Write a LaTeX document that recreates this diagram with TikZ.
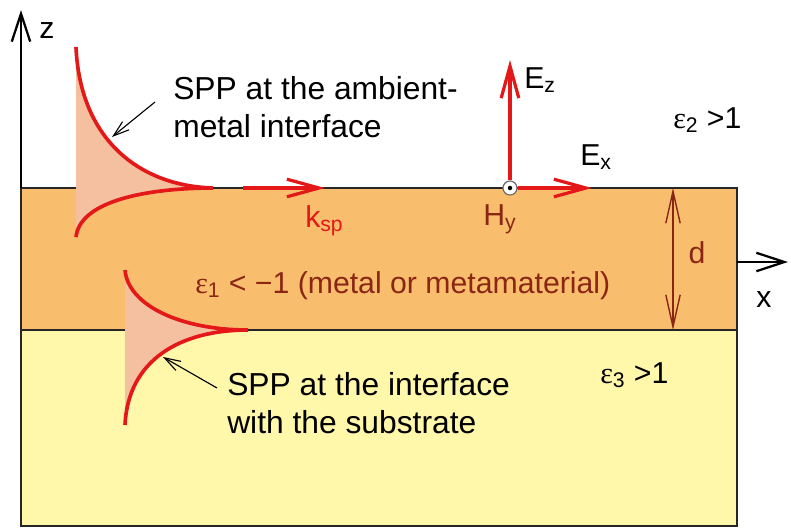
\documentclass[tikz,border=0pt]{standalone}
\usepackage{fontspec}
\setmainfont{Liberation Sans}
\newfontfamily\greekfont{Liberation Serif}
\usetikzlibrary{arrows.meta}
\definecolor{metal}{RGB}{248,190,110}
\definecolor{subst}{RGB}{255,247,170}
\definecolor{spp}{RGB}{244,192,160}
\definecolor{field}{RGB}{228,24,24}
\definecolor{brick}{RGB}{140,38,20}
\newcommand{\perm}[1]{{\greekfont ε}\textsubscript{#1}}

\begin{document}
\begin{tikzpicture}[x=0.025cm, y=-0.025cm,
        txt/.style={font=\fontsize{21.5}{27}\selectfont, inner sep=0pt},
        big/.style={font=\fontsize{22.6}{27}\selectfont, inner sep=0pt},
        wave/.style={draw=field, line width=2.6pt},
        vec/.style={field, line width=2.3pt, -{Straight Barb[length=8mm,width=4.4mm]}},
        axis/.style={line width=1.6pt, -{Straight Barb[length=7mm,width=4.6mm]}},
        note/.style={line width=0.8pt, -{Straight Barb[length=4mm,width=2.6mm]}}]

    \useasboundingbox (0,0) rectangle (791,528);

    % layers
    \fill[subst] (21,330) rectangle (737,526);
    \fill[metal] (21,188) rectangle (737,330);
    \draw[line width=1.2pt, black!85] (21,188) rectangle (737,526) (21,330) -- (737,330);

    % axes
    \coordinate (O) at (21,188);
    \coordinate (ztip) at (21,10);
    \coordinate (xfoot) at (737,262);
    \coordinate (xtip) at (788,262);
    \draw[axis] (O) -- (ztip);
    \draw[axis] (xfoot) -- (xtip);
    \node[txt, anchor=base] (zlab) at (47,38) {z};
    \node[txt, anchor=base] (xlab) at (764,307) {x};

    % SPP profiles
    \fill[spp] (76,47) .. controls (80,140) and (140,186) .. (213,188)
        .. controls (150,188) and (80,200) .. (76,237) -- cycle;
    \draw[wave] (76,47) .. controls (80,140) and (140,186) .. (213,188)
        .. controls (150,188) and (80,200) .. (76,237);
    \fill[spp] (125,270) .. controls (128,305) and (180,330) .. (248,330)
        .. controls (180,330) and (128,360) .. (125,425) -- cycle;
    \draw[wave] (125,270) .. controls (128,305) and (180,330) .. (248,330)
        .. controls (180,330) and (128,360) .. (125,425);

    % wave vector and fields
    \coordinate (kfoot) at (243,188);
    \coordinate (ktip) at (325,188);
    \draw[vec] (kfoot) -- (ktip);
    \node[txt, anchor=base west, field] (ksp) at (305,227) {k\textsubscript{sp}};

    \node[circle, draw=black!60, fill=white, minimum size=0.35cm, inner sep=0pt, line width=0.8pt] (Hy) at (510,188) {};
    \fill (Hy.center) circle[radius=1.6pt];
    \coordinate (Eztip) at (510,60);
    \coordinate (Extip) at (592,188);
    \draw[vec] (Hy) -- (Eztip);
    \draw[vec] (Hy) -- (Extip);
    \node[txt, anchor=base west] (Ez) at (524,88) {E\textsubscript{z}};
    \node[txt, anchor=base west] (Ex) at (580,165) {E\textsubscript{x}};
    \node[txt, anchor=base west, brick] (Hylab) at (483,225) {H\textsubscript{y}};

    % thickness
    \coordinate (dtop) at (673,188);
    \coordinate (dbot) at (673,330);
    \draw[line width=1pt, brick, {Straight Barb[length=8mm,width=3.6mm]}-{Straight Barb[length=8mm,width=3.6mm]}] (dtop) -- (dbot);
    \node[txt, anchor=base, brick] (dlab) at (697,263) {d};

    % media
    \node[txt, anchor=base west, brick] (eps1) at (195,293) {\perm{1} < −1 (metal or metamaterial)};
    \node[txt, anchor=base west] (eps2) at (673,128) {\perm{2} >1};
    \node[txt, anchor=base west] (eps3) at (600,383) {\perm{3} >1};

    % annotations
    \node[big, anchor=north west, align=left] (amb) at (173,76) {SPP at the ambient-\\metal interface};
    \node[big, anchor=north west, align=left] (sub) at (227,372) {SPP at the interface\\with the substrate};
    \coordinate (ambtail) at (155,102);
    \coordinate (ambtip) at (112,137);
    \coordinate (subtail) at (217,388);
    \coordinate (subtip) at (163,357);
    \draw[note] (ambtail) -- (ambtip);
    \draw[note] (subtail) -- (subtip);
\end{tikzpicture}
\end{document}
